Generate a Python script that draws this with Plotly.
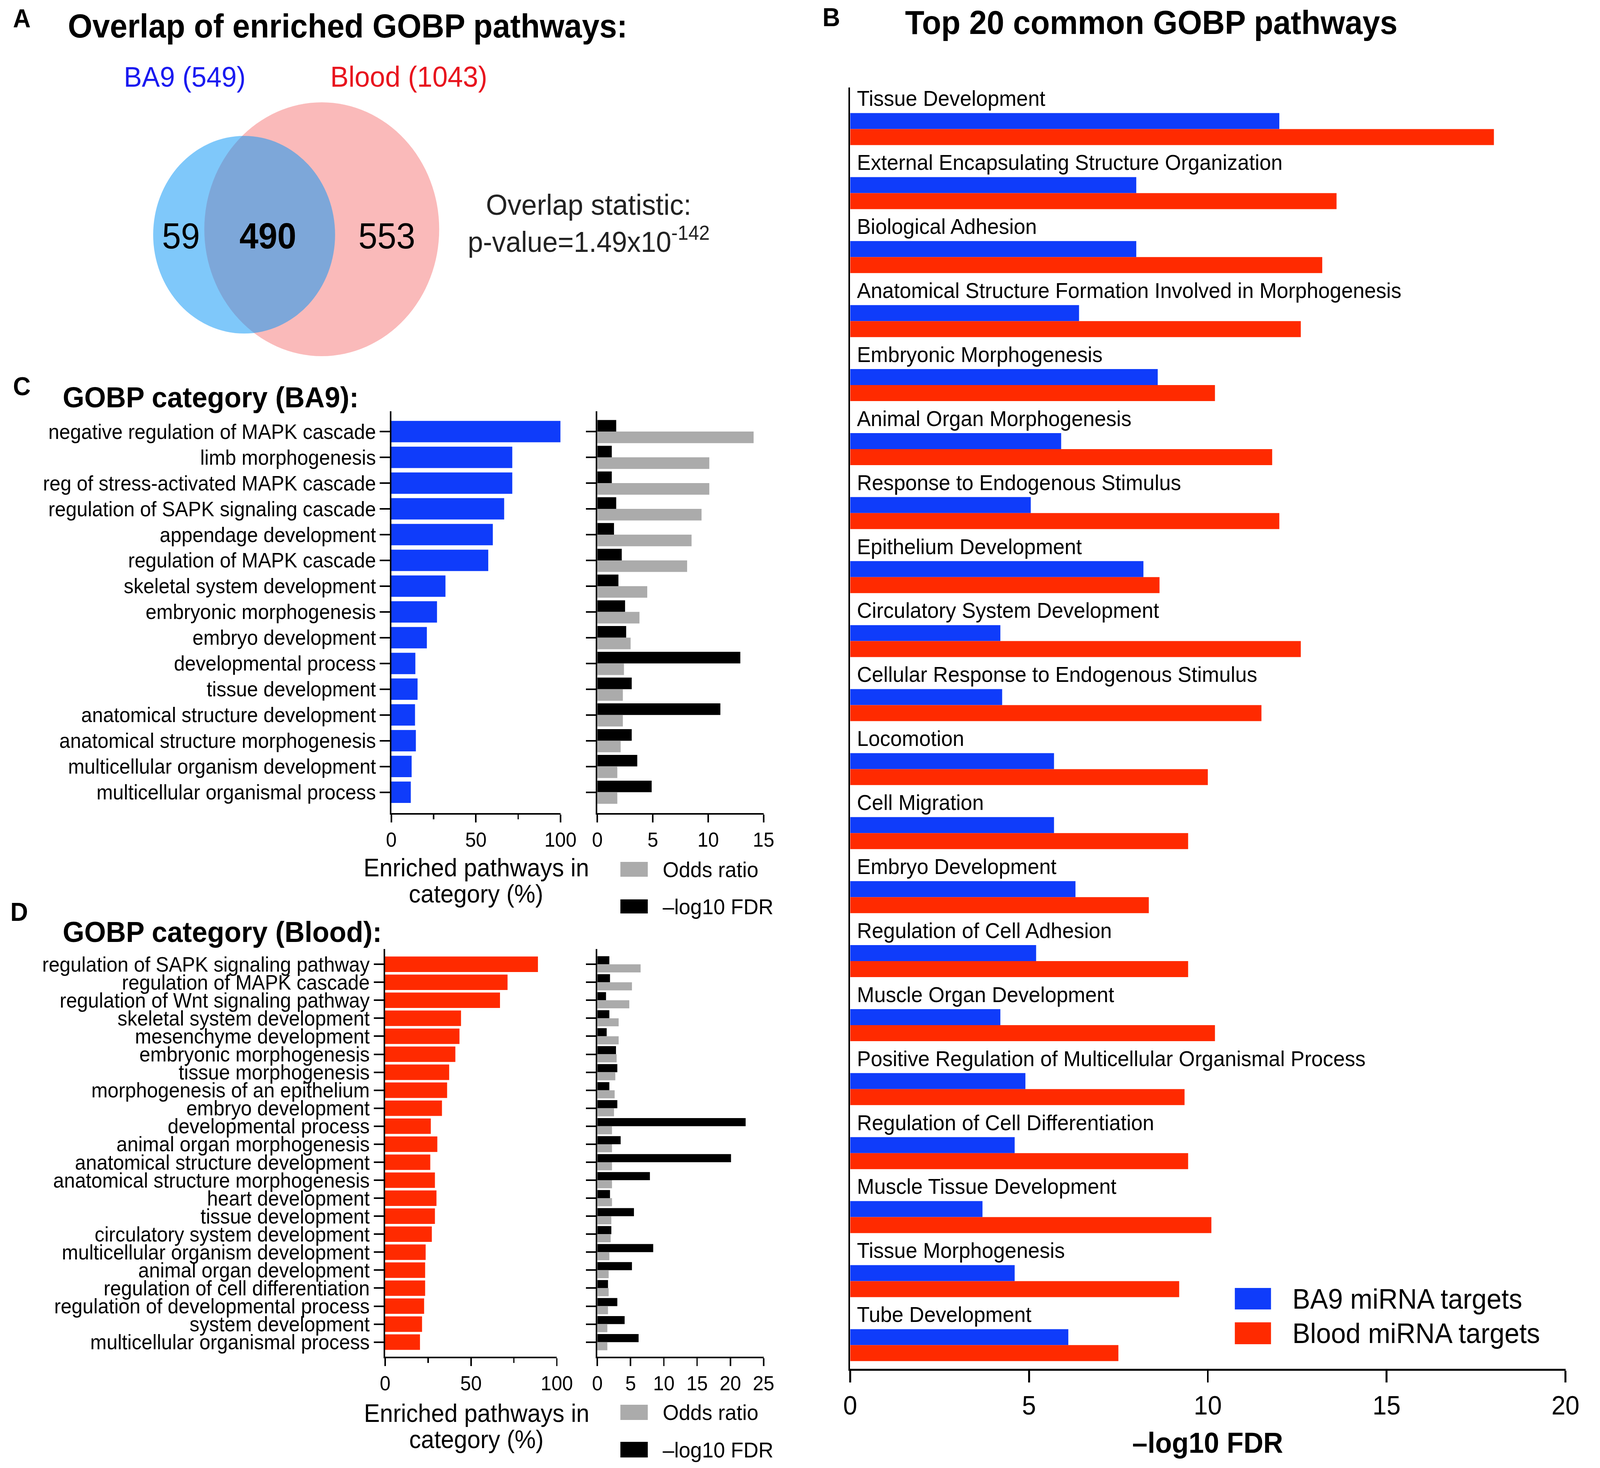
import plotly.graph_objects as go

W, H = 4317, 3759
FONT = "Liberation Sans, Arial, sans-serif"
BLUE = "#0F3CFA"
RED = "#FF2A00"
GREY = "#ABABAB"
BLACK = "#000000"

# ---- panel A: venn counts
ba9_total = 549
blood_total = 1043
ba9_only = 59
shared = 490
blood_only = 553
overlap_p = "1.49x10<sup>-142</sup>"

# ---- panel B: top 20 common GOBP pathways (-log10 FDR)
b_paths = [
    "Tissue Development",
    "External Encapsulating Structure Organization",
    "Biological Adhesion",
    "Anatomical Structure Formation Involved in Morphogenesis",
    "Embryonic Morphogenesis",
    "Animal Organ Morphogenesis",
    "Response to Endogenous Stimulus",
    "Epithelium Development",
    "Circulatory System Development",
    "Cellular Response to Endogenous Stimulus",
    "Locomotion",
    "Cell Migration",
    "Embryo Development",
    "Regulation of Cell Adhesion",
    "Muscle Organ Development",
    "Positive Regulation of Multicellular Organismal Process",
    "Regulation of Cell Differentiation",
    "Muscle Tissue Development",
    "Tissue Morphogenesis",
    "Tube Development",
]
b_ba9 = [12.0, 8.0, 8.0, 6.4, 8.6, 5.9, 5.05, 8.2, 4.2, 4.25,
         5.7, 5.7, 6.3, 5.2, 4.2, 4.9, 4.6, 3.7, 4.6, 6.1]
b_blood = [18.0, 13.6, 13.2, 12.6, 10.2, 11.8, 12.0, 8.65, 12.6, 11.5,
           10.0, 9.45, 8.35, 9.45, 10.2, 9.35, 9.45, 10.1, 9.2, 7.5]

# ---- panel C: GOBP category (BA9)
c_paths = [
    "negative regulation of MAPK cascade",
    "limb morphogenesis",
    "reg of stress-activated MAPK cascade",
    "regulation of SAPK signaling cascade",
    "appendage development",
    "regulation of MAPK cascade",
    "skeletal system development",
    "embryonic morphogenesis",
    "embryo development",
    "developmental process",
    "tissue development",
    "anatomical structure development",
    "anatomical structure morphogenesis",
    "multicellular organism development",
    "multicellular organismal process",
]
c_pct = [100, 71.5, 71.5, 66.7, 60, 57.3, 32, 27, 21, 14.2, 15.5, 14, 14.5, 12, 11.5]
c_fdr = [1.7, 1.3, 1.3, 1.7, 1.5, 2.2, 1.9, 2.5, 2.6, 12.9, 3.1, 11.1, 3.1, 3.6, 4.9]
c_odds = [14.1, 10.1, 10.1, 9.4, 8.5, 8.1, 4.5, 3.8, 3.0, 2.4, 2.3, 2.3, 2.1, 1.8, 1.8]

# ---- panel D: GOBP category (Blood)
d_paths = [
    "regulation of SAPK signaling pathway",
    "regulation of MAPK cascade",
    "regulation of Wnt signaling pathway",
    "skeletal system development",
    "mesenchyme development",
    "embryonic morphogenesis",
    "tissue morphogenesis",
    "morphogenesis of an epithelium",
    "embryo development",
    "developmental process",
    "animal organ morphogenesis",
    "anatomical structure development",
    "anatomical structure morphogenesis",
    "heart development",
    "tissue development",
    "circulatory system development",
    "multicellular organism development",
    "animal organ development",
    "regulation of cell differentiation",
    "regulation of developmental process",
    "system development",
    "multicellular organismal process",
]
d_pct = [89, 71.3, 66.9, 44.2, 43.3, 40.9, 37.3, 36.1, 33.1, 26.6, 30.4,
         26.3, 29, 29.9, 29, 27.2, 23.6, 23.3, 23.3, 22.7, 21.5, 20.3]
d_fdr = [1.8, 1.9, 1.3, 1.8, 1.4, 2.8, 3.0, 1.8, 3.0, 22.3, 3.5,
         20.1, 7.9, 1.9, 5.5, 2.1, 8.4, 5.2, 1.6, 3.0, 4.1, 6.2]
d_odds = [6.5, 5.2, 4.8, 3.2, 3.2, 2.9, 2.7, 2.6, 2.5, 2.2, 2.2,
          2.2, 2.2, 2.2, 2.1, 2.0, 1.8, 1.7, 1.7, 1.6, 1.5, 1.5]


def px(x):
    return x / W


def py(y):
    return 1 - y / H


def bar(x, n, color, xa, ya, width, offset=None):
    return go.Bar(x=x, y=list(range(n)), orientation="h", width=width, offset=offset,
                  marker=dict(color=color, line=dict(width=0)),
                  xaxis=xa, yaxis=ya, showlegend=False, hoverinfo="x")


fig = go.Figure()

# B
fig.add_trace(bar(b_ba9, len(b_paths), BLUE, "x", "y", 0.25, -0.25))
fig.add_trace(bar(b_blood, len(b_paths), RED, "x", "y", 0.25, 0))
# C
fig.add_trace(bar(c_pct, len(c_paths), BLUE, "x2", "y2", 0.83))
fig.add_trace(bar(c_fdr, len(c_paths), BLACK, "x3", "y3", 0.45, -0.45))
fig.add_trace(bar(c_odds, len(c_paths), GREY, "x3", "y3", 0.45, 0))
# D
fig.add_trace(bar(d_pct, len(d_paths), RED, "x4", "y4", 0.86))
fig.add_trace(bar(d_fdr, len(d_paths), BLACK, "x5", "y5", 0.45, -0.45))
fig.add_trace(bar(d_odds, len(d_paths), GREY, "x5", "y5", 0.45, 0))


def xax(domain, anchor, rng, tickvals, size, lw=4, ticklen=20, minor=None):
    d = dict(domain=domain, anchor=anchor, range=rng, tickvals=tickvals,
             ticks="outside", ticklen=ticklen, tickwidth=lw, tickcolor="black",
             showline=True, linewidth=lw, linecolor="black", showgrid=False,
             zeroline=False, tickfont=dict(size=size, color="black", family=FONT),
             fixedrange=True)
    if minor:
        d["minor"] = dict(tickvals=minor, ticks="outside", ticklen=12,
                          tickwidth=lw, tickcolor="black", showgrid=False)
    return d


def yax(domain, anchor, n, lo, hi, labels=None, size=53, lw=4, ticks="outside"):
    d = dict(domain=domain, anchor=anchor, range=[n - 1 + hi, -lo],
             tickvals=list(range(n)), showticklabels=labels is not None,
             ticks=ticks, ticklen=27, tickwidth=lw, tickcolor="black",
             showline=True, linewidth=lw, linecolor="black", showgrid=False,
             zeroline=False, tickfont=dict(size=size, color="black", family=FONT),
             fixedrange=True)
    if labels:
        d["ticktext"] = labels
    return d


c_dom = [py(2082), py(1053)]
d_dom = [py(3474), py(2430)]

fig.update_layout(
    width=W, height=H,
    margin=dict(l=0, r=0, t=0, b=0),
    paper_bgcolor="white", plot_bgcolor="white",
    barmode="overlay",
    font=dict(family=FONT, color="black"),
    xaxis=xax([px(2308), px(4266)], "y", [0, 20], [0, 5, 10, 15, 20], 68, lw=5, ticklen=30),
    yaxis=yax([py(3505), py(224)], "x", len(b_paths), 0.65, 0.37, None, lw=5, ticks=""),
    xaxis2=xax([px(1052), px(1515)], "y2", [0, 100], [0, 50, 100], 52, minor=[25, 75]),
    yaxis2=yax(c_dom, "x2", len(c_paths), 0.79, 0.81, c_paths, 53),
    xaxis3=xax([px(1616), px(2071)], "y3", [0, 15], [0, 5, 10, 15], 52),
    yaxis3=yax(c_dom, "x3", len(c_paths), 0.79, 0.81),
    xaxis4=xax([px(1035), px(1505)], "y4", [0, 100], [0, 50, 100], 52, minor=[25, 75]),
    yaxis4=yax(d_dom, "x4", len(d_paths), 0.85, 0.81, d_paths, 53),
    xaxis5=xax([px(1616), px(2071)], "y5", [0, 25], [0, 5, 10, 15, 20, 25], 52),
    yaxis5=yax(d_dom, "x5", len(d_paths), 0.85, 0.81),
)

ann = []


def text(x, y, t, size, color="black", xanchor="center", bold=False):
    ann.append(dict(x=px(x), y=py(y), xref="paper", yref="paper", text=f"<b>{t}</b>" if bold else t,
                    showarrow=False, xanchor=xanchor, yanchor="middle",
                    font=dict(size=size, color=color, family=FONT)))


# panel letters and titles
text(14, 47, "A", 66, xanchor="left", bold=True)
text(2230, 44, "B", 66, xanchor="left", bold=True)
text(14, 989, "C", 66, xanchor="left", bold=True)
text(7, 2335, "D", 66, xanchor="left", bold=True)
text(164, 67, "Overlap of enriched GOBP pathways:", 85, xanchor="left", bold=True)
text(2456, 58, "Top 20 common GOBP pathways", 85, xanchor="left", bold=True)
text(150, 1017, "GOBP category (BA9):", 75, xanchor="left", bold=True)
text(150, 2386, "GOBP category (Blood):", 75, xanchor="left", bold=True)

# venn labels
text(486, 197, f"BA9 ({ba9_total})", 73, color="#1A1AF0")
text(1100, 197, f"Blood ({blood_total})", 74, color="#E8141E")
text(476, 604, str(ba9_only), 92)
text(714, 604, str(shared), 92, bold=True)
text(1040, 604, str(blood_only), 92)
text(1592, 524, "Overlap statistic:", 75, color="#222222")
text(1592, 614, f"p-value={overlap_p}", 74, color="#222222")

# B category labels sit above each bar pair
for i, name in enumerate(b_paths):
    ann.append(dict(x=0, y=i - 0.48, xref="x", yref="y", text=name, showarrow=False,
                    xanchor="left", yanchor="middle", xshift=16,
                    font=dict(size=56, color="black", family=FONT)))

# axis titles
text(3287, 3694, "–log10 FDR", 74, bold=True)
text(1284, 2222, "Enriched pathways in", 64)
text(1284, 2289, "category (%)", 64)
text(1285, 3619, "Enriched pathways in", 64)
text(1285, 3686, "category (%)", 64)

# legends
shapes = []


def key(x0, y0, x1, y1, color, label, size):
    shapes.append(dict(type="rect", xref="paper", yref="paper", x0=px(x0), x1=px(x1),
                       y0=py(y1), y1=py(y0), fillcolor=color, line=dict(width=0)))
    text(x1 + 39 if size < 70 else x1 + 56, (y0 + y1) / 2, label, size, xanchor="left")


key(3361, 3298, 3460, 3353, BLUE, "BA9 miRNA targets", 72)
key(3361, 3386, 3460, 3442, RED, "Blood miRNA targets", 72)
key(1679, 2207, 1754, 2245, GREY, "Odds ratio", 56)
key(1679, 2303, 1754, 2339, BLACK, "–log10 FDR", 56)
key(1679, 3597, 1754, 3636, GREY, "Odds ratio", 56)
key(1679, 3692, 1754, 3732, BLACK, "–log10 FDR", 56)

# venn circles
venn = [
    dict(type="circle", xref="paper", yref="paper", x0=px(540), x1=px(1183),
         y0=py(912), y1=py(262), fillcolor="rgb(250,186,186)", line=dict(width=0), layer="below"),
    dict(type="circle", xref="paper", yref="paper", x0=px(400), x1=px(898),
         y0=py(854), y1=py(348), fillcolor="rgb(9,149,245)", opacity=0.52,
         line=dict(width=0), layer="below"),
]

fig.update_layout(annotations=ann, shapes=venn + shapes)

# the browser viewport can be narrower than the requested window,
# so fit the fixed-size figure to it
fit = """
var gd = document.getElementById('{plot_id}');
document.body.style.margin = '0';
document.body.style.overflow = 'hidden';
gd.style.transformOrigin = '0 0';
gd.style.transform = 'scale(' + (window.innerWidth / 4317) + ',' + (window.innerHeight / 3759) + ')';
"""

fig.write_html("out.html", post_script=fit, config={"displayModeBar": False})
